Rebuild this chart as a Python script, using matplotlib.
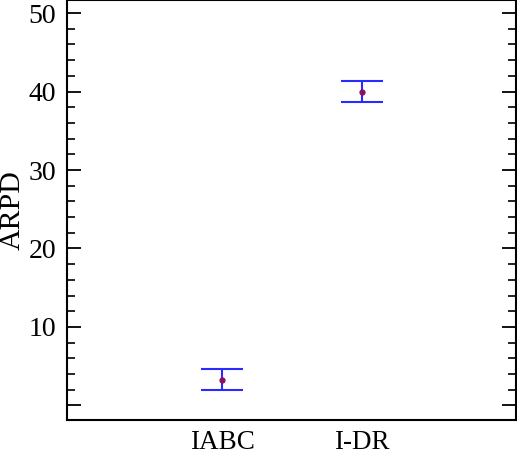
import matplotlib
matplotlib.use("Agg")
import matplotlib.pyplot as plt
from matplotlib.ticker import MultipleLocator

categories = ["IABC", "I-DR"]
means = [3.3, 40.0]
errors = [1.35, 1.35]
ytick_vals = [0, 10, 20, 30, 40, 50]
ytick_labels = ["", "10", "20", "30", "40", "50"]

plt.rcParams['font.family'] = ['Liberation Serif', 'DejaVu Serif']

fig = plt.figure(figsize=(5.17, 4.55), dpi=100)
ax = fig.add_axes([67/517, (455-420)/455, (516-67)/517, 420/455])

x = [1, 2]
ax.errorbar(x, means, yerr=errors, fmt='none', ecolor='#2a2aff', elinewidth=1.5,
            capsize=15, capthick=1.5, zorder=2)
ax.plot(x, means, 'o', color='#8b1060', markersize=3.5, zorder=3)

ax.set_xlim(-0.107, 3.1)
ax.set_ylim(-1.85, 51.66)
ax.set_xticks(x)
ax.set_xticklabels(categories, fontsize=19.5)
ax.tick_params(axis='x', length=0, pad=7)

ax.set_yticks(ytick_vals)
ax.set_yticklabels(ytick_labels, fontsize=20)
ax.yaxis.set_minor_locator(MultipleLocator(2))
ax.tick_params(axis='y', which='major', direction='in', length=10, width=1.3,
               right=True, pad=8)
ax.tick_params(axis='y', which='minor', direction='in', length=6, width=1.2,
               right=True)
for s in ax.spines.values():
    s.set_linewidth(1.5)

ax.set_ylabel("ARPD", fontsize=21.5, labelpad=2)

fig.savefig("out.png", dpi=100)
